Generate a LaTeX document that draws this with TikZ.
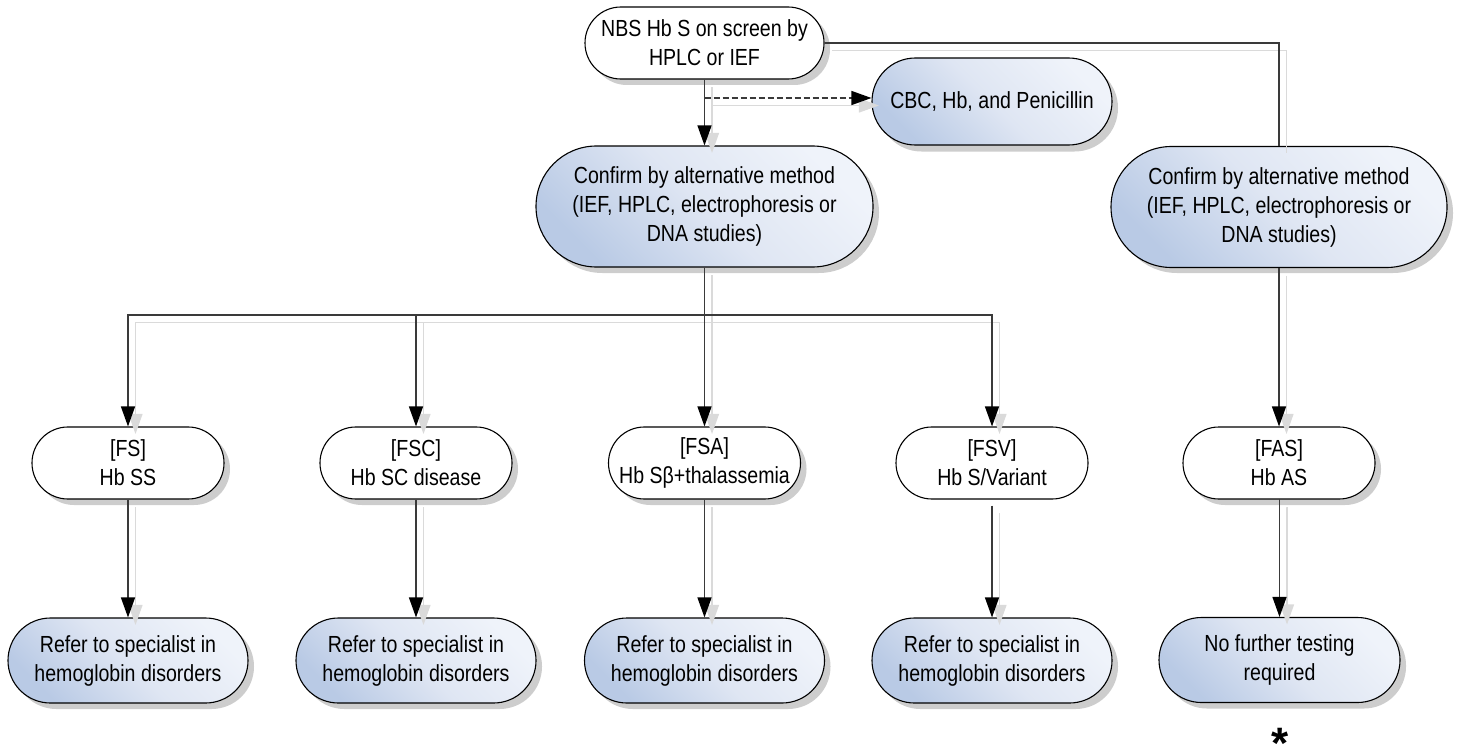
\documentclass[tikz,border=0pt]{standalone}
\usepackage{fontspec}
\setmainfont{Liberation Sans}[FakeStretch=0.84]
\newfontfamily\astfont{Liberation Sans}
\usetikzlibrary{arrows.meta}
\definecolor{blueDark}{HTML}{B9CAE5}
\definecolor{blueMid}{HTML}{DFE6F3}
\definecolor{blueLight}{HTML}{EFF3FA}
\definecolor{lineGray}{HTML}{3A3A3A}
\definecolor{ghostGray}{HTML}{DADADA}
\definecolor{shadowGray}{HTML}{CDCDCD}
\begin{document}
\begin{tikzpicture}[x=1pt,y=-1pt,
  basebox/.style={draw=black, line width=1.1pt, align=center, inner sep=0pt,
    font=\fontsize{23.3}{29}\selectfont},
  whitebox/.style={basebox, fill=white, minimum width=192pt, minimum height=72pt, rounded corners=35.9pt},
  bluefill/.style={basebox, top color=blueLight, bottom color=blueDark, middle color=blueMid, shading angle=-45},
  refbox/.style={bluefill, minimum width=240pt, minimum height=85pt, rounded corners=42.4pt},
  confbox/.style={bluefill, minimum width=337pt, minimum height=121pt, rounded corners=60.4pt},
  shadowbox/.style={fill=shadowGray, draw=none, inner sep=0pt, rounded corners=#1},
  ghost/.style={preaction={draw=ghostGray, line width=1.1pt, transform canvas={shift={(7.5pt,-7.5pt)}}, #1}},
  ghost/.default={},
  plainline/.style={draw=lineGray, line width=1.3pt, ghost},
  conn/.style={draw=lineGray, line width=1.3pt,
    ghost={-{Triangle[length=20pt,width=14pt,color=ghostGray]}},
    -{Triangle[length=20pt,width=14pt,color=black]}},
]
% node shadows (drawn first, behind the boxes)
\path[shadowbox=35.9pt] (591,13) rectangle (830,85);
\path[shadowbox=43.4pt] (878,64.5) rectangle (1118,151.5);
\path[shadowbox=60.4pt] (542,152) rectangle (879,273);
\path[shadowbox=60pt] (1117,153) rectangle (1453,273);
\path[shadowbox=35.9pt] (38,433) rectangle (230,505);
\path[shadowbox=35.9pt] (326,433) rectangle (518,505);
\path[shadowbox=35.9pt] (614.5,433) rectangle (806.5,505);
\path[shadowbox=35.9pt] (1189,433) rectangle (1381,505);
\path[shadowbox=42.4pt] (14,624) rectangle (254,709);
\path[shadowbox=42.4pt] (302,624) rectangle (542,709);
\path[shadowbox=42.4pt] (590.5,624) rectangle (830.5,709);
\path[shadowbox=42.4pt] (878,624) rectangle (1118,709);
\path[shadowbox=41.9pt] (1165,623.5) rectangle (1406,708.5);

% nodes
\node[whitebox, minimum width=239pt] (nbs) at (704.5,43) {NBS Hb S on screen by\\HPLC or IEF};
\node[bluefill, minimum width=240pt, minimum height=87pt, rounded corners=43.4pt] (cbc) at (992,101.5) {CBC, Hb, and Penicillin};
\node[confbox] (c1) at (704.5,206.5) {Confirm by alternative method\\(IEF, HPLC, electrophoresis or\\DNA studies)};
\node[confbox, minimum width=336pt] (c2) at (1279,207) {Confirm by alternative method\\(IEF, HPLC, electrophoresis or\\DNA studies)};

\node[whitebox] (fs) at (128,463) {[FS]\\Hb SS};
\node[whitebox] (fsc) at (416,463) {[FSC]\\Hb SC disease};
\node[whitebox] (fsa) at (704.5,463) {[FSA]\\Hb Sβ+thalassemia};
\node[whitebox] (fsv) at (992,463) {[FSV]\\Hb S/Variant};
\node[whitebox] (fas) at (1279,463) {[FAS]\\Hb AS};

\node[refbox] (r1) at (128,660.5) {Refer to specialist in\\hemoglobin disorders};
\node[refbox] (r2) at (416,660.5) {Refer to specialist in\\hemoglobin disorders};
\node[refbox] (r3) at (704.5,660.5) {Refer to specialist in\\hemoglobin disorders};
\node[refbox] (r4) at (992,660.5) {Refer to specialist in\\hemoglobin disorders};
\node[refbox, minimum width=241pt] (nf) at (1279.5,660) {No further testing\\required};

\node[anchor=north, inner sep=0pt, font=\astfont\bfseries\fontsize{44}{44}\selectfont] (ast) at (1280,728) {*};

% connectors
\draw[conn] (nbs) -- (c1);
\coordinate (dsrc) at (704.5,98);
\draw[conn, dashed, dash pattern=on 6pt off 3pt] (dsrc) -- (dsrc -| cbc.west);
\draw[plainline] (nbs.east) -| (c2.north);

\draw[conn] (c1.south) -- ++(0,47.5) -| (fs.north);
\draw[conn] (c1.south) -- ++(0,47.5) -| (fsc.north);
\draw[conn] (c1.south) -- (fsa.north);
\draw[conn] (c1.south) -- ++(0,47.5) -| (fsv.north);
\draw[conn] (c2.south) -- (fas.north);

\draw[conn] (fs) -- (r1);
\draw[conn] (fsc) -- (r2);
\draw[conn] (fsa) -- (r3);
\draw[conn, shorten <=6pt] (fsv) -- (r4);
\draw[conn] (fas.south) -- (fas.south -| nf.north) -- (nf.north);

\pgfresetboundingbox
\path[use as bounding box] (0,0) rectangle (1458,749);
\end{tikzpicture}
\end{document}
